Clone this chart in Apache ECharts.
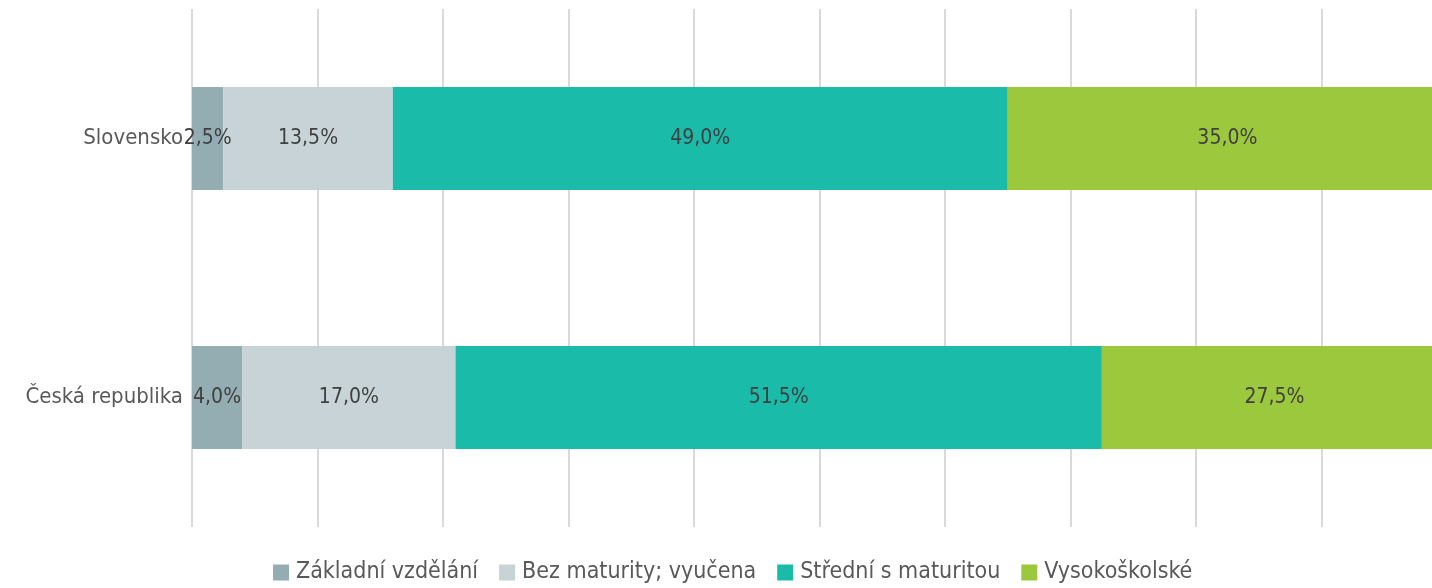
<!DOCTYPE html>
<html lang="cs">
<head>
    <meta charset="utf-8">
    <title>Vzdělání</title>
    <script src="https://cdn.jsdelivr.net/npm/echarts@6/dist/echarts.min.js"></script>
</head>
<body style="margin:0;overflow:hidden">
    <!-- graf je v originále vpravo oříznutý, proto širší div -->
    <div style="width:1432px;height:588px;overflow:hidden">
        <div id="main" style="width:1447px;height:588px;"></div>
    </div>
    <script type="text/javascript">
    // kategorie (shora dolů)
    var zeme = ['Slovensko', 'Česká republika'];
    var zakladni = [2.5, 4.0];
    var bezMaturity = [13.5, 17.0];
    var stredni = [49.0, 51.5];
    var vysokoskolske = [35.0, 27.5];

    var nazvy = ['Základní vzdělání', 'Bez maturity; vyučena', 'Střední s maturitou', 'Vysokoškolské'];
    var barvy = ['#93adb3', '#c8d3d8', '#1abca9', '#9bc83c'];
    var hodnoty = [zakladni, bezMaturity, stredni, vysokoskolske];

    var font = '"DejaVu Sans Condensed", "DejaVu Sans", sans-serif';

    var myChart = echarts.init(document.getElementById('main'));

    var series = [];
    for (var i = 0; i < nazvy.length; i++) {
        series.push({
            name: nazvy[i],
            type: 'bar',
            stack: 'total',
            barWidth: 103,
            itemStyle: { color: barvy[i] },
            label: {
                show: true,
                position: 'inside',
                color: '#404040',
                fontSize: 21,
                fontFamily: font,
                formatter: function (p) {
                    return p.value.toFixed(1).replace('.', ',') + '%';
                }
            },
            data: hodnoty[i]
        });
    }

    myChart.setOption({
        animation: false,
        textStyle: { fontFamily: font },
        grid: { left: 192, right: 0, top: 9, bottom: 61, containLabel: false },
        legend: {
            top: 561,
            left: 273,
            padding: 0,
            itemWidth: 16,
            itemHeight: 16,
            itemGap: 21,
            icon: 'rect',
            textStyle: { color: '#595959', fontSize: 23, fontFamily: font, padding: [0, 0, 0, 2] },
            data: nazvy
        },
        xAxis: {
            type: 'value',
            min: 0,
            max: 100,
            interval: 10,
            axisLabel: { show: false },
            axisLine: { show: false },
            axisTick: { show: false },
            splitLine: { lineStyle: { color: '#d9d9d9', width: 2 } }
        },
        yAxis: {
            type: 'category',
            inverse: true,
            data: zeme,
            axisLine: { show: false },
            axisTick: { show: false },
            axisLabel: { color: '#595959', fontSize: 22, margin: 9, fontFamily: font }
        },
        series: series
    });
    </script>
</body>
</html>
